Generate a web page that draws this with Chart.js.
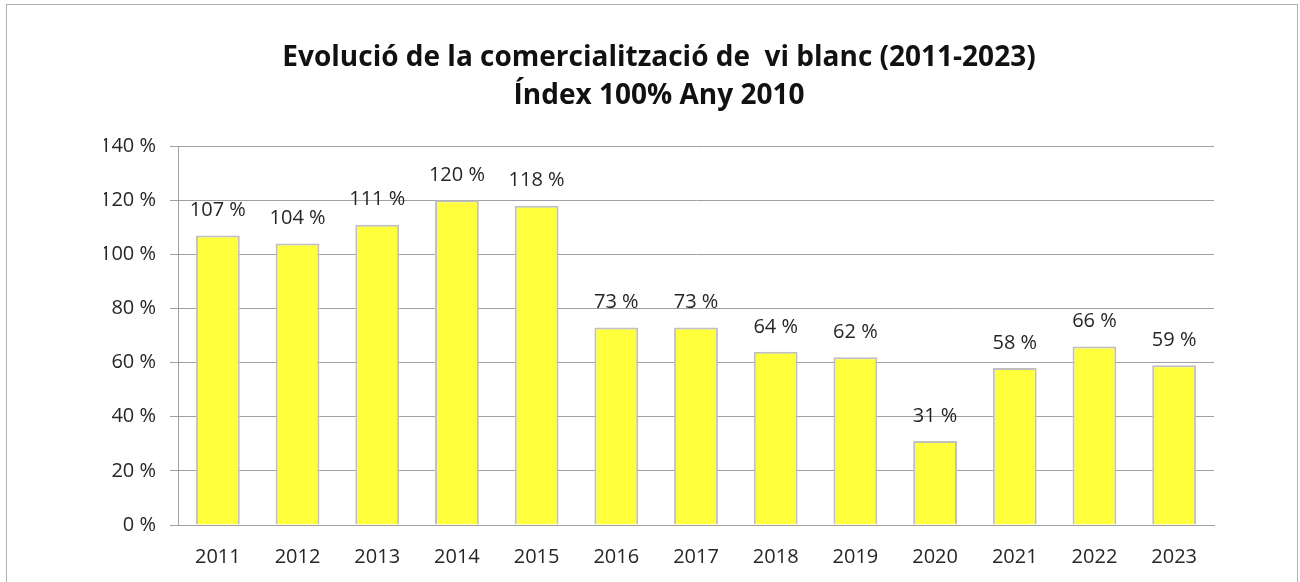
<!DOCTYPE html>
<html>
<head>
<meta charset="utf-8">
<script src="https://cdn.jsdelivr.net/npm/chart.js@4"></script>
<style>
  body { margin: 0; background: #fff; }
  #frame { position: absolute; left: 6px; top: 4px; width: 1290px; height: 600px; border: 1px solid #b0b0b0; }
  #wrap { position: absolute; left: 0; top: 0; width: 1290px; height: 577px; }
</style>
</head>
<body>
<div id="frame">
  <div id="wrap"><canvas id="chart"></canvas></div>
</div>

<script>
var years = ['2011', '2012', '2013', '2014', '2015', '2016', '2017', '2018', '2019', '2020', '2021', '2022', '2023'];
var indexValues = [107, 104, 111, 120, 118, 73, 73, 64, 62, 31, 58, 66, 59];
var titleLines = ['Evolució de la comercialització de  vi blanc (2011-2023)', 'Índex 100% Any 2010'];

var fontFamily = "'Open Sans', 'Noto Sans', sans-serif";

document.addEventListener('DOMContentLoaded', function () {
    var ctx = document.getElementById('chart').getContext('2d');

    var config = {
        type: 'bar',
        data: {
            labels: years,
            datasets: [{
                data: indexValues,
                backgroundColor: '#ffff3c',
                borderColor: '#c0c0c0',
                borderWidth: 2,
                categoryPercentage: 1,
                barPercentage: 0.55
            }]
        },
        options: {
            responsive: true,
            maintainAspectRatio: false,
            animation: false,
            // left padding shifts the title centre to match the original
            layout: { padding: { left: 97, right: 83, top: 0, bottom: 0 } },
            scales: {
                x: {
                    grid: { display: false, drawTicks: false },
                    border: { display: true, color: '#a0a0a0', width: 1 },
                    ticks: { color: '#262626', padding: 20, font: { family: fontFamily, size: 20 } },
                    afterFit: function (scale) { scale.height = 57; }
                },
                y: {
                    min: 0,
                    max: 140,
                    grid: { color: '#a0a0a0', tickLength: 8, drawTicks: true },
                    border: { display: true, color: '#a0a0a0', width: 1 },
                    ticks: {
                        stepSize: 20,
                        color: '#262626',
                        padding: 14,
                        font: { family: fontFamily, size: 20 },
                        callback: function (v) { return v + ' %'; }
                    },
                    afterFit: function (scale) { scale.width = 74; }
                }
            },
            plugins: {
                legend: { display: false },
                tooltip: { enabled: false },
                title: {
                    display: true,
                    text: titleLines,
                    color: '#111',
                    font: { family: fontFamily, size: 28, weight: 'bold', lineHeight: 1.36 },
                    padding: { top: 34, bottom: 31 }
                }
            }
        },
        plugins: [{
            afterDatasetsDraw: function (chart) {
                var c = chart.ctx;
                var meta = chart.getDatasetMeta(0);
                c.save();
                c.fillStyle = '#262626';
                c.font = '20px ' + fontFamily;
                c.textAlign = 'center';
                c.textBaseline = 'middle';
                meta.data.forEach(function (bar, i) {
                    c.fillText(indexValues[i] + ' %', bar.x, bar.y - 25);
                });
                c.restore();
            }
        }]
    };

    new Chart(ctx, config);
});
</script>
</body>
</html>
